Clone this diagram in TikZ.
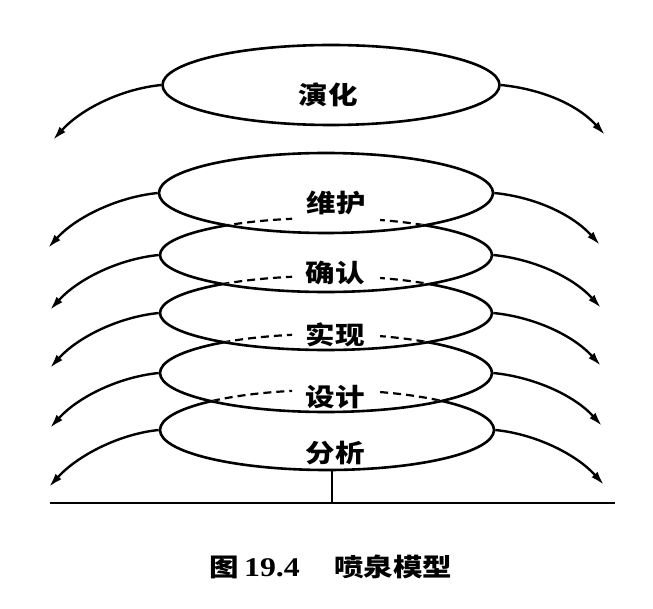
\documentclass[tikz,border=0pt]{standalone}
\usepackage{fontspec}
\usepackage{graphicx}
\newfontfamily\cjk{Noto Sans CJK SC}
\newfontfamily\digits{Liberation Serif}
\usetikzlibrary{shapes.geometric,arrows.meta}
\newcommand{\widetext}[1]{\scalebox{1.18}[1]{#1}}
\begin{document}
\begin{tikzpicture}[x=1pt,y=-1pt,
  ell/.style={draw, ellipse, line width=2.6pt, fill=white, inner sep=0pt},
  lab/.style={font=\cjk\bfseries\fontsize{25}{25}\selectfont, inner sep=0pt},
  flow/.style={line width=2.4pt, -{Latex[length=14pt,width=8pt]}},
  hid/.style={line width=2.2pt, dash pattern=on 8pt off 5pt},
  rulebar/.style={line width=2.8pt}]
\useasboundingbox[fill=white] (0,0) rectangle (653,609);

% top ellipse
\node[ell, minimum width=337pt, minimum height=80pt] (e0) at (331,85) {};
\node[lab] (t0) at (328,95) {\widetext{演化}};

% stacked ellipses, drawn from the bottom up
\node[ell, minimum width=334pt, minimum height=80pt] (e5) at (327,430) {};

\node[ell, minimum width=332pt, minimum height=78pt] (e4) at (326,373) {};
\begin{scope}
  \clip (326,373) ellipse [x radius=164.5pt, y radius=37.5pt];
  \clip (0,0) rectangle (292,609) (380,0) rectangle (653,609);
  \draw[hid] (327,430) ellipse [x radius=167pt, y radius=40pt];
\end{scope}

\node[ell, minimum width=332pt, minimum height=74pt] (e3) at (326,313) {};
\begin{scope}
  \clip (326,313) ellipse [x radius=164.5pt, y radius=35.5pt];
  \clip (0,0) rectangle (292,609) (380,0) rectangle (653,609);
  \draw[hid] (326,373) ellipse [x radius=166pt, y radius=39pt];
\end{scope}

\node[ell, minimum width=332pt, minimum height=74pt] (e2) at (326,255) {};
\begin{scope}
  \clip (326,255) ellipse [x radius=164.5pt, y radius=35.5pt];
  \clip (0,0) rectangle (292,609) (380,0) rectangle (653,609);
  \draw[hid] (326,313) ellipse [x radius=166pt, y radius=37pt];
\end{scope}

\node[ell, minimum width=334pt, minimum height=80pt] (e1) at (326,193) {};
\begin{scope}
  \clip (326,193) ellipse [x radius=165.5pt, y radius=38.5pt];
  \clip (0,0) rectangle (292,609) (380,0) rectangle (653,609);
  \draw[hid] (326,255) ellipse [x radius=166pt, y radius=37pt];
\end{scope}

% labels
\node[lab] (t1) at (336,203) {\widetext{维护}};
\node[lab] (t2) at (335,273) {\widetext{确认}};
\node[lab] (t3) at (335,335) {\widetext{实现}};
\node[lab] (t4) at (335,397) {\widetext{设计}};
\node[lab] (t5) at (335,453) {\widetext{分析}};

% arrow tips
\coordinate (l0) at (53,140);  \coordinate (r0) at (605,135);
\coordinate (l1) at (48,248);  \coordinate (r1) at (600,245);
\coordinate (l2) at (50,310);  \coordinate (r2) at (601,308);
\coordinate (l3) at (50,368);  \coordinate (r3) at (601,366);
\coordinate (l4) at (50,428);  \coordinate (r4) at (602,426);
\coordinate (l5) at (49,487);  \coordinate (r5) at (604,485);

\foreach \i in {0,...,5}{
  \draw[flow] (e\i.west) .. controls +(-40,4) and +(28,-31) .. (l\i);
  \draw[flow] (e\i.east) .. controls +(40,4) and +(-28,-31) .. (r\i);
}

% base line and stem
\coordinate (bl) at (50,503);
\coordinate (br) at (615,503);
\coordinate (st) at (332,503);
\draw[rulebar] (bl) -- (br);
\draw[line width=2.4pt] (e5.south -| st) -- (st);

% caption
\node[lab] (cap) at (331,567) {\widetext{图\hspace{4pt}{\digits\bfseries\fontsize{27}{27}\selectfont 19.4}\hspace{29pt}喷泉模型}};
\end{tikzpicture}
\end{document}
